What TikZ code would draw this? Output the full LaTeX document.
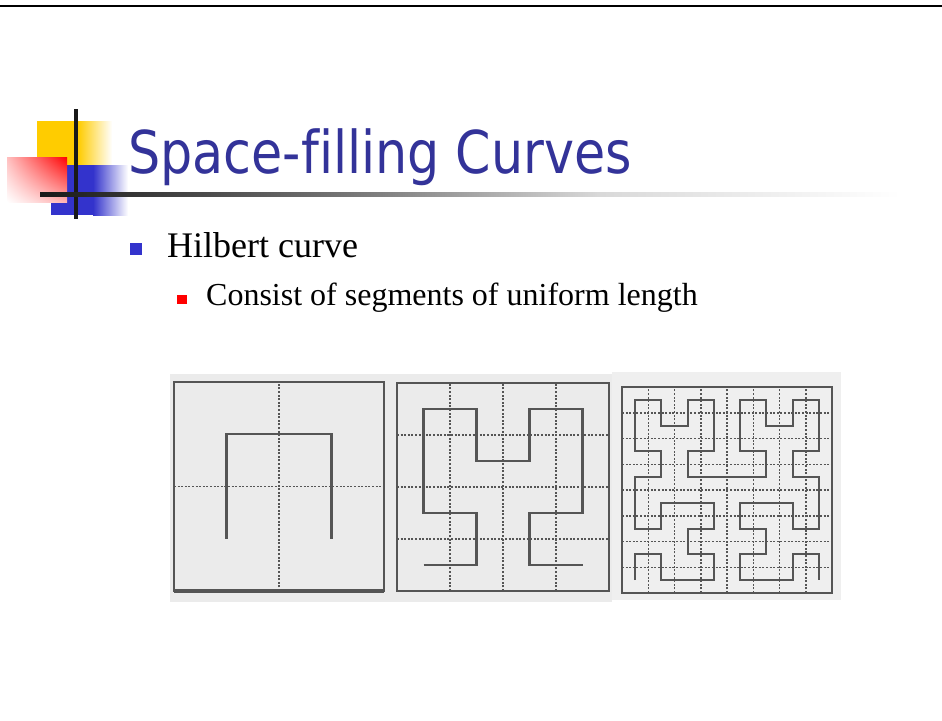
\documentclass[tikz,border=0pt]{standalone}
\usepackage{fontspec}
\usetikzlibrary{shadings}
\setmainfont{Liberation Serif}
\newfontfamily\titlefont[FakeStretch=0.86,Ligatures=NoCommon]{DejaVu Sans}
\definecolor{titleblue}{HTML}{333399}
\definecolor{bulletblue}{HTML}{3333CC}
\definecolor{decoyellow}{HTML}{FFCC00}
\definecolor{decoblue}{HTML}{3333CC}
\definecolor{scanbg}{HTML}{EBEBEB}
\definecolor{scanink}{HTML}{555555}
\begin{document}
\begin{tikzpicture}[x=1pt,y=-1pt,
    frameline/.style={draw=scanink,line width=2pt},
    gridline/.style={draw=scanink,line width=1.7pt,dash pattern=on 2pt off 1.6pt},
    curveline/.style={draw=scanink,line width=2.2pt},
    bodytext/.style={anchor=base west,inner sep=0pt},
    bulletmark/.style={inner sep=0pt,minimum size=#1}]
  \useasboundingbox (0,0) rectangle (942,720);
  % rule at the top of the slide
  \draw[line width=2.5pt] (0,6) -- (942,6);
  % corner decoration
  \fill[decoyellow] (37,121) rectangle (78,165);
  \shade[left color=decoyellow,right color=white] (78,121) rectangle (112,165);
  \fill[decoblue] (51,165) rectangle (93,215);
  \shade[left color=decoblue,right color=white] (93,165) rectangle (128,215);
  \shade[upper right=red,upper left=red!25,lower left=white,lower right=red!30] (7,157) rectangle (67,202);
  \fill[black!90] (74,109) rectangle (78,219);
  \shade[left color=black!90,right color=black!50] (40,192) rectangle (380,196);
  \shade[left color=black!50,right color=black!15] (380,192) rectangle (600,196);
  \shade[left color=black!15,right color=white] (600,192) rectangle (900,196);
  % title and bullets
  \node[bodytext,text=titleblue,font={\titlefont\fontsize{59}{64}\selectfont}] (title) at (128,173) {Space-filling Curves};
  \node[bulletmark=12pt,fill=bulletblue] (markone) at (136,249) {};
  \node[bodytext,font={\fontsize{36}{40}\selectfont}] (hilbert) at (167,257) {Hilbert curve};
  \node[bulletmark=9.5pt,fill=red] (marktwo) at (182,299.5) {};
  \node[bodytext,font={\fontsize{32}{36}\selectfont}] (uniform) at (206,305) {Consist of segments of uniform length};
  % scanned panels
  \fill[scanbg] (170,374) rectangle (395,602);
  \fill[scanbg] (395,374) rectangle (612,602);
  \fill[scanbg!80!white] (612,372) rectangle (841,600);
  % order 1
  \begin{scope}[shift={(174,591)},x=105pt,y=104.5pt]
    \draw[gridline] (1,0) -- (1,2) (0,1) -- (2,1);
    \draw[frameline] (0,0) rectangle (2,2);
    \draw[frameline,line width=3.5pt] (0,0) -- (2,0);
    \draw[curveline] (0.5,0.5) -- (0.5,1.5) -- (1.5,1.5) -- (1.5,0.5);
  \end{scope}
  % order 2
  \begin{scope}[shift={(397,591)},x=53pt,y=52pt]
    \foreach \k in {1,2,3}
      \draw[gridline] (\k,0) -- (\k,4) (0,\k) -- (4,\k);
    \draw[frameline,line width=2.5pt] (0,0) rectangle (4,4);
    \draw[curveline] (0.5,0.5) -- (1.5,0.5) -- (1.5,1.5) -- (0.5,1.5) -- (0.5,3.5) -- (1.5,3.5)
      -- (1.5,2.5) -- (2.5,2.5) -- (2.5,3.5) -- (3.5,3.5) -- (3.5,1.5) -- (2.5,1.5) -- (2.5,0.5) -- (3.5,0.5);
  \end{scope}
  % order 3
  \begin{scope}[shift={(622,593)},x=26.25pt,y=25.75pt]
    \foreach \k in {1,...,7}
      \draw[gridline,line width=1.5pt] (\k,0) -- (\k,8) (0,\k) -- (8,\k);
    \draw[frameline] (0,0) rectangle (8,8);
    \begin{scope}[shift={(0.5,0.5)}]
      \draw[curveline] (0,0) -- (0,1) -- (1,1) -- (1,0) -- (2,0) -- (3,0) -- (3,1) -- (2,1)
        -- (2,2) -- (3,2) -- (3,3) -- (2,3) -- (1,3) -- (1,2) -- (0,2) -- (0,3)
        -- (0,4) -- (1,4) -- (1,5) -- (0,5) -- (0,6) -- (0,7) -- (1,7) -- (1,6)
        -- (2,6) -- (2,7) -- (3,7) -- (3,6) -- (3,5) -- (2,5) -- (2,4) -- (3,4)
        -- (4,4) -- (5,4) -- (5,5) -- (4,5) -- (4,6) -- (4,7) -- (5,7) -- (5,6)
        -- (6,6) -- (6,7) -- (7,7) -- (7,6) -- (7,5) -- (6,5) -- (6,4) -- (7,4)
        -- (7,3) -- (7,2) -- (6,2) -- (6,3) -- (5,3) -- (4,3) -- (4,2) -- (5,2)
        -- (5,1) -- (4,1) -- (4,0) -- (5,0) -- (6,0) -- (6,1) -- (7,1) -- (7,0);
    \end{scope}
  \end{scope}
\end{tikzpicture}
\end{document}
